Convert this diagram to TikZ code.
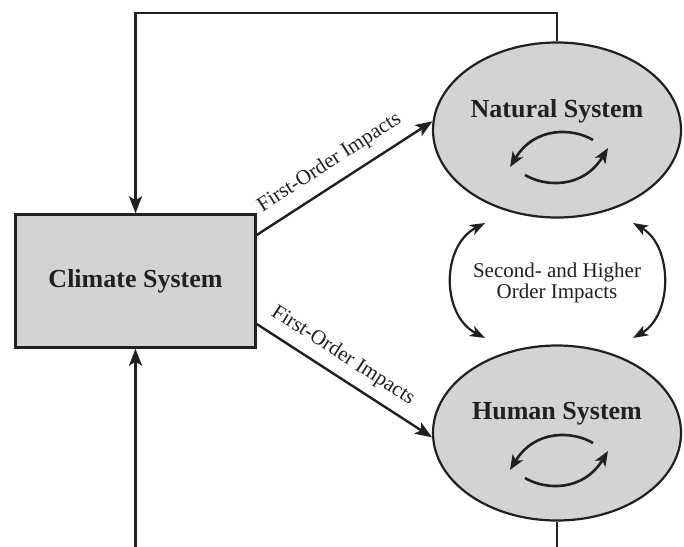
\documentclass[tikz,border=0pt]{standalone}
\usepackage{fontspec}
\setmainfont{Liberation Serif}
\usetikzlibrary{arrows.meta,shapes.geometric}
\definecolor{boxgray}{RGB}{209,211,212}
\definecolor{ink}{RGB}{35,31,32}
\begin{document}
\begin{tikzpicture}[x=1pt,y=-1pt,
  sysbox/.style={draw=ink, line width=2.4pt, fill=boxgray, minimum width=240pt, minimum height=133pt, inner sep=0pt},
  sysell/.style={ellipse, draw=ink, line width=2.2pt, fill=boxgray, minimum width=248pt, minimum height=175pt, inner sep=0pt},
  systext/.style={font=\fontsize{26}{28}\selectfont\bfseries, text=ink},
  lbl/.style={font=\fontsize{21}{21.5}\selectfont, text=ink},
  link/.style={line width=2.4pt, draw=ink},
  arr/.style={link, -{Stealth[length=17pt,width=13pt,inset=4pt]}},
  darr/.style={line width=2.2pt, draw=ink, {Stealth[length=15pt,width=11pt,inset=4pt]}-{Stealth[length=15pt,width=11pt,inset=4pt]}},
  cyc/.style={line width=2.6pt, draw=ink, -{Stealth[length=15pt,width=12pt,inset=4pt]}},
]
\useasboundingbox (0,0) rectangle (684,546);
\fill[white] (0,0) rectangle (684,546);

% main nodes
\node[sysbox, systext] (climate) at (135.5,281) {Climate System};
\node[sysell] (natural) at (557,130) {};
\node[systext] (naturallabel) at (557,111) {Natural System};
\node[sysell] (human) at (557,433) {};
\node[systext] (humanlabel) at (557,414) {Human System};
\node[lbl, align=center] (second) at (557,283) {Second- and Higher\\Order Impacts};

% helper coordinates
\coordinate (topline) at (0,13);
\coordinate (humanend) at (557,550);
\coordinate (climend) at (135.5,550);
\coordinate (sl1) at (485,223);
\coordinate (sl2) at (485,338);
\coordinate (sr1) at (633,223);
\coordinate (sr2) at (633,338);

% feedback loop lines
\draw[arr] (natural.north) |- (topline -| climate.north) -- (climate.north);
\draw[link] (human.south) -- (humanend);
\draw[arr] (climend) -- (climate.south);

% first-order impacts
\draw[arr] ([yshift=46pt]climate.east) -- node[lbl, sloped, above=7pt, pos=0.48] {First-Order Impacts} (natural.176);
\draw[arr] ([yshift=-43pt]climate.east) -- node[lbl, sloped, above=6pt, pos=0.43] {First-Order Impacts} (human.182);

% second- and higher order impacts
\draw[darr] (sl1) .. controls (441,246) and (441,315) .. (sl2);
\draw[darr] (sr1) .. controls (673,246) and (673,315) .. (sr2);

% internal cycles
\begin{scope}[shift={(natural.center)}]
  \draw[cyc] (36,10) .. controls (16,-2) and (-22,-4) .. (-47,37);
  \draw[cyc] (-32,45) .. controls (-12,57) and (26,59) .. (51,18);
\end{scope}
\begin{scope}[shift={(human.center)}]
  \draw[cyc] (36,10) .. controls (16,-2) and (-22,-4) .. (-47,37);
  \draw[cyc] (-32,45) .. controls (-12,57) and (26,59) .. (51,18);
\end{scope}
\end{tikzpicture}
\end{document}
